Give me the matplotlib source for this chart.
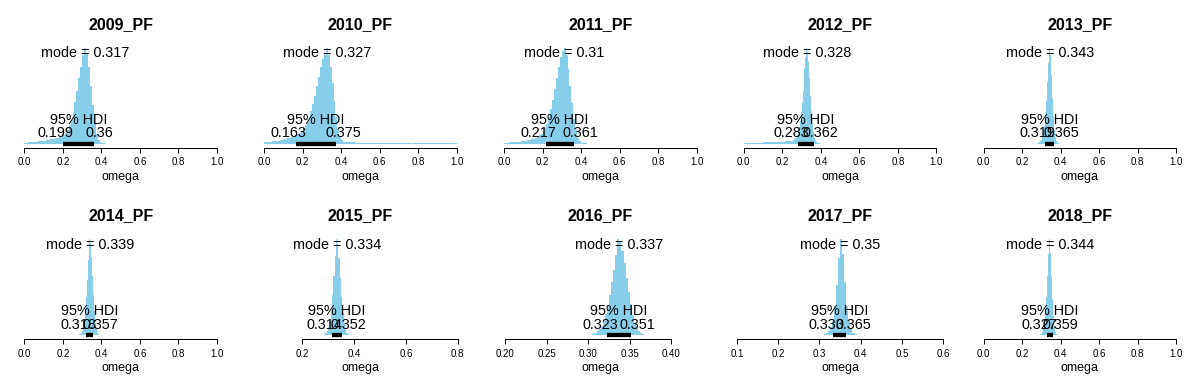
import numpy as np
import matplotlib.pyplot as plt

plt.rcParams['font.family'] = ['Liberation Sans', 'DejaVu Sans']

titles = ['2009_PF', '2010_PF', '2011_PF', '2012_PF', '2013_PF',
          '2014_PF', '2015_PF', '2016_PF', '2017_PF', '2018_PF']
modes = [0.317, 0.327, 0.31, 0.328, 0.343, 0.339, 0.334, 0.337, 0.35, 0.344]
hdi_lo = [0.199, 0.163, 0.217, 0.283, 0.319, 0.318, 0.314, 0.323, 0.333, 0.327]
hdi_hi = [0.36, 0.375, 0.361, 0.362, 0.365, 0.357, 0.352, 0.351, 0.365, 0.359]

# histogram bins: first left edge, bin width, relative heights (peak = 1)
bin_start = [0.0, 0.0, 0.0, 0.0, 0.275, 0.28, 0.28, 0.30, 0.305, 0.29]
bin_step = [0.01, 0.01, 0.01, 0.005, 0.005, 0.005, 0.005, 0.0025, 0.005, 0.005]

h2009 = [0.010, 0.012, 0.014, 0.016, 0.018, 0.020, 0.022, 0.025, 0.028, 0.030,
         0.033, 0.036, 0.040, 0.044, 0.048, 0.053, 0.058, 0.064, 0.072, 0.082,
         0.095, 0.115, 0.145, 0.19, 0.25, 0.33, 0.43, 0.55, 0.68, 0.80,
         0.92, 1.00, 0.95, 0.80, 0.60, 0.40, 0.22, 0.10, 0.04, 0.015,
         0.005, 0.002]
h2010 = [0.015, 0.017, 0.019, 0.021, 0.024, 0.027, 0.030, 0.033, 0.037, 0.041,
         0.045, 0.050, 0.056, 0.063, 0.070, 0.078, 0.088, 0.100, 0.115, 0.135,
         0.16, 0.19, 0.23, 0.28, 0.34, 0.41, 0.50, 0.60, 0.70, 0.80,
         0.88, 0.95, 1.00, 0.93, 0.80, 0.63, 0.45, 0.28, 0.15, 0.07,
         0.035, 0.022, 0.017, 0.015, 0.014, 0.013, 0.013, 0.012, 0.012, 0.012,
         0.012, 0.012, 0.012, 0.012, 0.012, 0.011, 0.011, 0.011, 0.011, 0.011,
         0.011, 0.011, 0.011, 0.011, 0.011, 0.011, 0.011, 0.010, 0.010, 0.010,
         0.010, 0.010, 0.010, 0.010, 0.010, 0.010, 0.010, 0.010, 0.010, 0.010,
         0.010, 0.010, 0.010, 0.010, 0.010, 0.009, 0.009, 0.009, 0.009, 0.009,
         0.009, 0.009, 0.009, 0.009, 0.009, 0.009, 0.009, 0.009, 0.009, 0.009]
h2011 = [0.010, 0.011, 0.012, 0.013, 0.014, 0.016, 0.018, 0.020, 0.022, 0.025,
         0.028, 0.031, 0.035, 0.040, 0.046, 0.053, 0.062, 0.073, 0.087, 0.105,
         0.13, 0.16, 0.21, 0.28, 0.36, 0.46, 0.57, 0.69, 0.80, 0.90,
         0.97, 1.00, 0.92, 0.78, 0.60, 0.42, 0.26, 0.14, 0.06, 0.025,
         0.01, 0.004, 0.002]
h2012 = [0.008, 0.008, 0.008, 0.009, 0.009, 0.009, 0.009, 0.010, 0.010, 0.010,
         0.010, 0.010, 0.011, 0.011, 0.011, 0.011, 0.012, 0.012, 0.012, 0.012,
         0.013, 0.013, 0.013, 0.014, 0.014, 0.014, 0.015, 0.015, 0.016, 0.016,
         0.016, 0.017, 0.017, 0.018, 0.018, 0.019, 0.019, 0.020, 0.020, 0.021,
         0.021, 0.022, 0.022, 0.023, 0.023, 0.024, 0.025, 0.026, 0.027, 0.028,
         0.03, 0.035, 0.045, 0.055, 0.07, 0.09, 0.12, 0.17, 0.24, 0.33,
         0.43, 0.55, 0.67, 0.79, 0.90, 1.00, 0.96, 0.85, 0.68, 0.50,
         0.34, 0.22, 0.12, 0.06, 0.03, 0.015, 0.008, 0.004, 0.002, 0.001]
h2013 = [0.004, 0.007, 0.011, 0.017, 0.026, 0.04, 0.065, 0.11, 0.18, 0.29,
         0.45, 0.64, 0.84, 1.00, 0.92, 0.72, 0.48, 0.28, 0.14, 0.06,
         0.025, 0.01, 0.004]
h2014 = [0.005, 0.008, 0.014, 0.025, 0.045, 0.08, 0.14, 0.25, 0.40, 0.58,
         0.78, 1.00, 0.96, 0.82, 0.62, 0.42, 0.25, 0.13, 0.06, 0.025,
         0.01, 0.004]
h2015 = [0.005, 0.01, 0.02, 0.04, 0.08, 0.15, 0.26, 0.42, 0.62, 0.83,
         1.00, 0.95, 0.80, 0.60, 0.40, 0.23, 0.12, 0.05, 0.02, 0.008,
         0.003]
h2016 = [0.003, 0.006, 0.012, 0.022, 0.04, 0.065, 0.10, 0.15, 0.22, 0.31,
         0.42, 0.55, 0.68, 0.84, 1.00, 0.97, 0.88, 0.75, 0.60, 0.45,
         0.32, 0.21, 0.13, 0.075, 0.04, 0.02, 0.009, 0.004]
h2017 = [0.004, 0.01, 0.02, 0.04, 0.08, 0.15, 0.30, 0.52, 0.80, 1.00,
         0.85, 0.55, 0.30, 0.14, 0.06, 0.025, 0.008, 0.003]
h2018 = [0.004, 0.008, 0.015, 0.03, 0.06, 0.12, 0.23, 0.40, 0.62, 0.85,
         1.00, 0.86, 0.62, 0.38, 0.20, 0.09, 0.035, 0.012, 0.004]
heights = [h2009, h2010, h2011, h2012, h2013, h2014, h2015, h2016, h2017, h2018]

xlims = [(-0.04, 1.04)] * 6 + [(0.024, 0.826), (0.189, 0.440), (0.098, 0.602), (-0.04, 1.04)]
ticks01 = [0.0, 0.2, 0.4, 0.6, 0.8, 1.0]
xticks = [ticks01] * 6 + [[0.2, 0.4, 0.6, 0.8],
                          [0.20, 0.25, 0.30, 0.35, 0.40],
                          [0.1, 0.2, 0.3, 0.4, 0.5, 0.6],
                          ticks01]
tick_fmt = ['%.1f'] * 7 + ['%.2f', '%.1f', '%.1f']

W, H = 1199, 383
fig = plt.figure(figsize=(W / 100, H / 100), dpi=100)
renderer = fig.canvas.get_renderer()
cell_w = W / 5
txt_size = 10.4


def hdi_label(ax, x, s, frac):
    # mimic R text(adj=c(frac, -0.5))
    t = ax.annotate(s, xy=(x, 0), xytext=(0, 4.7), textcoords='offset points',
                    ha='left', va='baseline', fontsize=txt_size)
    w = t.get_window_extent(renderer).width * 72 / fig.dpi
    t.xyann = (-frac * w, 4.7)


for i in range(10):
    r, c = divmod(i, 5)
    ax = fig.add_axes([(c * cell_w + 16.7) / W, 1 - (147.5 + r * 191.5) / H,
                       208 / W, 103.5 / H])
    h = np.array(heights[i])
    left = bin_start[i] + bin_step[i] * np.arange(len(h))
    ax.bar(left, h, width=bin_step[i], align='edge', color='#87CEEB',
           edgecolor='none')
    ax.plot([hdi_lo[i], hdi_hi[i]], [0, 0], color='black', lw=3.1,
            solid_capstyle='butt')
    ax.text(modes[i], 0.9, 'mode = %.3g' % modes[i], ha='center',
            va='baseline', fontsize=txt_size)
    ax.annotate('95% HDI', xy=((hdi_lo[i] + hdi_hi[i]) / 2, 0), xytext=(0, 14.4),
                textcoords='offset points', ha='center', va='baseline',
                fontsize=txt_size)
    hdi_label(ax, hdi_lo[i], '%.3g' % hdi_lo[i], 0.7)
    hdi_label(ax, hdi_hi[i], '%.3g' % hdi_hi[i], 0.3)

    ax.set_xlim(*xlims[i])
    ax.set_ylim(-0.04, 1.04)
    ax.set_yticks([])
    ax.set_xticks(xticks[i])
    ax.set_xticklabels([tick_fmt[i] % v for v in xticks[i]], fontsize=7)
    ax.tick_params(axis='x', length=3.6, width=0.72, pad=3.5)
    for s in ['left', 'right', 'top']:
        ax.spines[s].set_visible(False)
    ax.spines['bottom'].set_bounds(xticks[i][0], xticks[i][-1])
    ax.spines['bottom'].set_linewidth(0.72)
    ax.set_xlabel('omega', fontsize=9, labelpad=2.5)
    ax.set_title(titles[i], fontsize=11.5, fontweight='bold', pad=11)
    ax.patch.set_visible(False)

fig.savefig('out.png', dpi=100)
